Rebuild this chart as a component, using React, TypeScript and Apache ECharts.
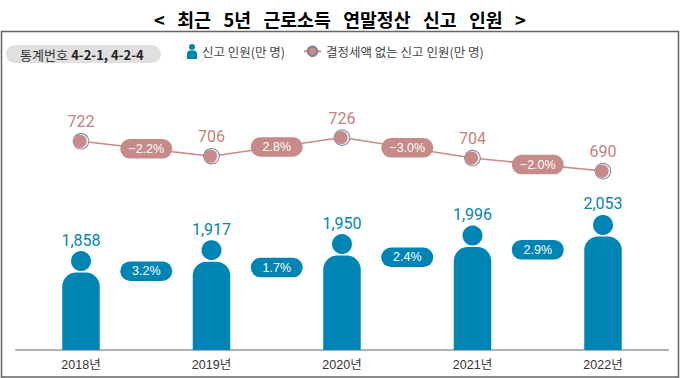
import React, { useEffect, useRef } from "react";
import * as echarts from "echarts";

const years = ["2018년", "2019년", "2020년", "2021년", "2022년"];
const filers = [1858, 1917, 1950, 1996, 2053];
const noTaxFilers = [722, 706, 726, 704, 690];
const filerGrowth = [3.2, 1.7, 2.4, 2.9];
const noTaxGrowth = [-2.2, 2.8, -3.0, -2.0];

const BLUE = "#0084B4";
const ROSE = "#C68A88";
const ROSE_TEXT = "#C4807E";
const KR = '"Noto Sans CJK KR", sans-serif';
const LATIN = '"Liberation Sans", "Noto Sans CJK KR", sans-serif';
const NUM = 'Roboto, "Liberation Sans", sans-serif';
const PERSON = "path://M5 0a3 3 0 1 1 0 6a3 3 0 1 1 0-6zM0 15V10a3.5 3.5 0 0 1 3.5-3.5h3A3.5 3.5 0 0 1 10 10V15z";
const FILER_NAME = "신고 인원(만 명)";
const NOTAX_NAME = "결정세액 없는 신고 인원(만 명)";
const BLUE_PILL_SHIFT = [4, 9, 6, 8];

const pct = (v: number) => `${v < 0 ? "−" : ""}${Math.abs(v).toFixed(1)}%`;

function pillSeries(growth: number[], values: number[], yAxisIndex: number, fill: string, shift: number[]) {
  return {
    type: "custom",
    yAxisIndex,
    silent: true,
    z: 6,
    clip: false,
    data: growth.map((v, i) => [i, v]),
    renderItem: (params: any, api: any) => {
      const i = params.dataIndex;
      const a = api.coord([i, values[i]]);
      const b = api.coord([i + 1, values[i + 1]]);
      const x = (a[0] + b[0]) / 2;
      const y = (a[1] + b[1]) / 2 + shift[i];
      return {
        type: "group",
        children: [
          { type: "rect", shape: { x: x - 26, y: y - 9.75, width: 52, height: 19.5, r: 9.75 }, style: { fill } },
          {
            type: "text",
            style: { x, y, text: pct(growth[i]), fill: "#fff", font: `12.5px ${LATIN}`, align: "center", verticalAlign: "middle" },
          },
        ],
      };
    },
  };
}

export default function App() {
  const ref = useRef<HTMLDivElement>(null);
  useEffect(() => {
    const chart = echarts.init(ref.current!, null, { renderer: "svg" });
    chart.setOption({
      animation: false,
      backgroundColor: "#fff",
      title: {
        text: "<   최근   5년   근로소득   연말정산   신고   인원   >",
        left: "center",
        top: 5,
        textStyle: { fontFamily: KR, fontSize: 18.3, fontWeight: "bold", color: "#000" },
      },
      legend: [
        {
          data: [{ name: FILER_NAME, icon: PERSON }],
          left: 182, top: 39, itemWidth: 10, itemHeight: 16, itemGap: 0,
          textStyle: { fontFamily: KR, fontSize: 12.5, color: "#444" },
        },
        {
          data: [NOTAX_NAME],
          left: 298, top: 40, itemWidth: 17, itemHeight: 12, itemGap: 0,
          textStyle: { fontFamily: KR, fontSize: 12.5, color: "#444" },
        },
      ],
      grid: { left: 15.75, right: 11.75, top: 50, bottom: 28, containLabel: false },
      xAxis: {
        type: "category",
        data: years,
        axisTick: { show: false },
        axisLine: { lineStyle: { color: "#9a9a9a", width: 1.5 } },
        axisLabel: { fontFamily: LATIN, fontSize: 12.5, color: "#333", margin: 9 },
      },
      yAxis: [
        { type: "value", min: 1440, max: 3060, show: false },
        { type: "value", min: 498, max: 820, show: false },
      ],
      series: [
        {
          type: "bar",
          name: FILER_NAME,
          data: filers,
          barWidth: 37.5,
          itemStyle: { color: BLUE, borderRadius: [14, 14, 0, 0] },
          z: 2,
        },
        {
          type: "scatter",
          data: filers,
          symbol: "circle",
          symbolSize: 20,
          symbolOffset: [0, -11.5],
          itemStyle: { color: BLUE, opacity: 1 },
          label: {
            show: true,
            position: "top",
            distance: 3,
            fontFamily: NUM,
            fontSize: 16,
            color: BLUE,
            formatter: (p: any) => Number(p.value).toLocaleString("en-US"),
          },
          silent: true,
          z: 3,
        },
        {
          type: "line",
          name: NOTAX_NAME,
          yAxisIndex: 1,
          data: noTaxFilers,
          symbol: "circle",
          symbolSize: 10,
          showSymbol: true,
          lineStyle: { color: ROSE, width: 1.5 },
          itemStyle: { color: ROSE, borderColor: "#7d7f9c", borderWidth: 1 },
          label: {
            show: true,
            position: "top",
            distance: 6,
            fontFamily: NUM,
            fontSize: 16,
            color: ROSE_TEXT,
          },
          z: 3,
        },
        {
          type: "custom",
          yAxisIndex: 1,
          silent: true,
          z: 4,
          clip: false,
          data: noTaxFilers.map((v, i) => [i, v]),
          renderItem: (_: any, api: any) => {
            const [x, y] = api.coord([api.value(0), api.value(1)]);
            return {
              type: "group",
              children: [
                { type: "circle", shape: { cx: x, cy: y, r: 8.3 }, style: { fill: "#7d7f9c" } },
                { type: "circle", shape: { cx: x, cy: y, r: 7.4 }, style: { fill: "#e8e8f0" } },
                { type: "circle", shape: { cx: x - 1.1, cy: y, r: 6.6 }, style: { fill: ROSE } },
              ],
            };
          },
        },
        pillSeries(noTaxGrowth, noTaxFilers, 1, ROSE, [0, 0, 0, 0]),
        pillSeries(filerGrowth, filers, 0, BLUE, BLUE_PILL_SHIFT),
      ],
      graphic: [
        {
          type: "rect",
          z: -1,
          shape: { x: 1.5, y: 31.5, width: 677, height: 345.5 },
          style: { fill: "none", stroke: "#666", lineWidth: 1.5 },
        },
        {
          type: "rect",
          shape: { x: 6, y: 45, width: 155, height: 18, r: 9 },
          style: { fill: "#E0E0E0" },
        },
        {
          type: "text",
          x: 20,
          y: 54,
          style: {
            text: "{a|통계번호} {b|4-2-1, 4-2-4}",
            verticalAlign: "middle",
            rich: {
              a: { fontFamily: KR, fontSize: 13, fill: "#333", color: "#333" },
              b: { fontFamily: KR, fontSize: 13, fontWeight: "bold", fill: "#222", color: "#222" },
            },
          },
        },
      ],
    });
    return () => chart.dispose();
  }, []);
  return <div ref={ref} style={{ position: "absolute", left: 0, top: 0, width: 680, height: 378 }} />;
}
